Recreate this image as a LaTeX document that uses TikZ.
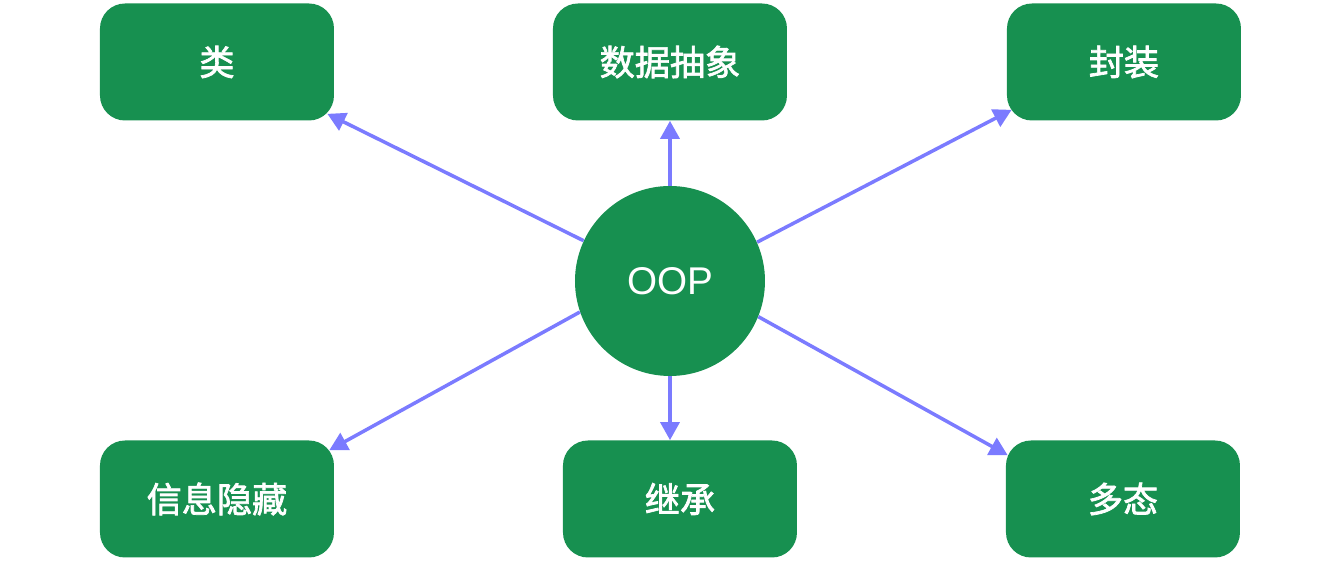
\documentclass[tikz,border=0pt]{standalone}
\usepackage{fontspec}
\setmainfont{Liberation Sans}
\newfontfamily\cjk[FakeBold=2]{Noto Sans CJK SC}
\usetikzlibrary{positioning, arrows.meta}
\definecolor{oopgreen}{RGB}{23,144,80}
\definecolor{linkblue}{RGB}{123,123,255}

\begin{document}
\begin{tikzpicture}[
  on grid,
  conceptbox/.style={rectangle, rounded corners=0.5cm, fill=oopgreen, minimum width=4.68cm, minimum height=2.34cm, text=white, font=\cjk\fontsize{20}{24}\selectfont},
  hub/.style={circle, fill=oopgreen, minimum size=3.8cm, text=white, font=\fontsize{22}{26}\selectfont},
  arrow/.style={-{Triangle[length=0.36cm, width=0.38cm]}, line width=0.07cm, draw=linkblue}
]
\useasboundingbox (-13.4,-5.62) rectangle (13.2,5.62);

% centre node
\node[hub] (oop) at (0,0) {OOP};

% top row
\node[conceptbox, above left=4.38cm and 9.06cm of oop] (class) {类};
\node[conceptbox, above=4.38cm of oop] (abstraction) {数据抽象};
\node[conceptbox, above right=4.38cm and 9.08cm of oop] (encapsulation) {封装};

% bottom row
\node[conceptbox, below left=4.36cm and 9.06cm of oop] (hiding) {信息隐藏};
\node[conceptbox, below right=4.36cm and 0.2cm of oop] (inherit) {继承};
\node[conceptbox, below right=4.36cm and 9.06cm of oop] (polymorph) {多态};

% arrows from the centre
\draw[arrow] (oop.155.9) -- ([xshift=-0.14cm, yshift=0.14cm]class.south east);
\draw[arrow] (oop.north) -- (abstraction.south);
\draw[arrow] (oop.24.1) -- ([xshift=0.1cm, yshift=0.22cm]encapsulation.south west);
\draw[arrow] (oop.-161) -- ([xshift=-0.1cm, yshift=-0.2cm]hiding.north east);
\draw[arrow] (oop.south) -- (oop.south |- inherit.north);
\draw[arrow] (oop.-22.2) -- ([xshift=0.04cm, yshift=-0.3cm]polymorph.north west);

\end{tikzpicture}
\end{document}
